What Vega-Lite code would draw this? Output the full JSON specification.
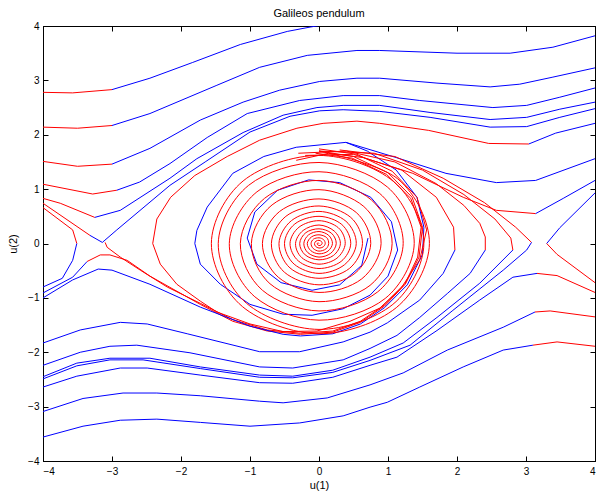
{
"$schema":"https://vega.github.io/schema/vega-lite/v6.json",
"autosize":{"type":"none"},
"width":552,"height":435,
"padding":{"left":43,"top":26,"right":1,"bottom":33},
"background":"white",
"title":{"text":"Galileos pendulum","fontSize":11,"font":"Liberation Sans","fontWeight":"normal","color":"#000","offset":2},
"config":{"view":{"stroke":"#000","strokeWidth":1},
"axis":{"grid":false,"domainColor":"#000","tickColor":"#000","labelColor":"#000","titleColor":"#000","tickSize":-5,"labelFont":"Liberation Sans","labelFontSize":10,"titleFont":"Liberation Sans","titleFontSize":11,"titleFontWeight":"normal"}},
"datasets":{
"ln":[
{"c":"L1r","k":"r","x":-4,"y":2.78},{"c":"L1r","k":"r","x":-3.57,"y":2.77},{"c":"L1r","k":"r","x":-3.0,"y":2.83},
{"c":"L1b","k":"b","x":-3.0,"y":2.83},{"c":"L1b","k":"b","x":-2.45,"y":3.04},{"c":"L1b","k":"b","x":-1.83,"y":3.33},{"c":"L1b","k":"b","x":-1.14,"y":3.66},{"c":"L1b","k":"b","x":-0.46,"y":3.9},{"c":"L1b","k":"b","x":-0.13,"y":3.98},{"c":"L1b","k":"b","x":0.1,"y":4.03},
{"c":"L2r","k":"r","x":-4,"y":2.14},{"c":"L2r","k":"r","x":-3.5,"y":2.12},{"c":"L2r","k":"r","x":-3.0,"y":2.17},
{"c":"L2b","k":"b","x":-3.0,"y":2.17},{"c":"L2b","k":"b","x":-2.45,"y":2.39},{"c":"L2b","k":"b","x":-1.48,"y":2.91},{"c":"L2b","k":"b","x":-0.86,"y":3.24},{"c":"L2b","k":"b","x":-0.17,"y":3.46},{"c":"L2b","k":"b","x":0.55,"y":3.55},{"c":"L2b","k":"b","x":0.88,"y":3.55},{"c":"L2b","k":"b","x":2.0,"y":3.5},{"c":"L2b","k":"b","x":2.77,"y":3.5},{"c":"L2b","k":"b","x":3.39,"y":3.61},{"c":"L2b","k":"b","x":4.0,"y":3.82},
{"c":"L3r","k":"r","x":-4,"y":1.51},{"c":"L3r","k":"r","x":-3.5,"y":1.42},{"c":"L3r","k":"r","x":-3.0,"y":1.46},
{"c":"L3b","k":"b","x":-3.0,"y":1.46},{"c":"L3b","k":"b","x":-2.45,"y":1.75},{"c":"L3b","k":"b","x":-1.72,"y":2.27},{"c":"L3b","k":"b","x":-1.1,"y":2.6},{"c":"L3b","k":"b","x":-0.57,"y":2.82},{"c":"L3b","k":"b","x":0.01,"y":2.98},{"c":"L3b","k":"b","x":0.55,"y":3.04},{"c":"L3b","k":"b","x":0.88,"y":3.04},{"c":"L3b","k":"b","x":1.71,"y":2.95},{"c":"L3b","k":"b","x":2.48,"y":2.88},{"c":"L3b","k":"b","x":2.91,"y":2.93},{"c":"L3b","k":"b","x":3.39,"y":3.06},{"c":"L3b","k":"b","x":4.0,"y":3.23},
{"c":"L4r","k":"r","x":-4,"y":1.09},{"c":"L4r","k":"r","x":-3.28,"y":0.91},{"c":"L4r","k":"r","x":-2.93,"y":0.98},
{"c":"L4b","k":"b","x":-2.93,"y":0.98},{"c":"L4b","k":"b","x":-2.6,"y":1.13},{"c":"L4b","k":"b","x":-2.16,"y":1.47},{"c":"L4b","k":"b","x":-1.62,"y":1.95},{"c":"L4b","k":"b","x":-1.04,"y":2.39},{"c":"L4b","k":"b","x":-0.28,"y":2.63},{"c":"L4b","k":"b","x":0.35,"y":2.72},{"c":"L4b","k":"b","x":0.88,"y":2.72},{"c":"L4b","k":"b","x":1.46,"y":2.63},{"c":"L4b","k":"b","x":2.52,"y":2.5},{"c":"L4b","k":"b","x":3.01,"y":2.54},{"c":"L4b","k":"b","x":3.49,"y":2.69},{"c":"L4b","k":"b","x":4.0,"y":2.86},
{"c":"L5r","k":"r","x":-4,"y":0.83},{"c":"L5r","k":"r","x":-3.75,"y":0.74},{"c":"L5r","k":"r","x":-3.25,"y":0.48},
{"c":"L5b","k":"b","x":-3.25,"y":0.48},{"c":"L5b","k":"b","x":-2.88,"y":0.61},{"c":"L5b","k":"b","x":-2.16,"y":1.2},{"c":"L5b","k":"b","x":-1.77,"y":1.56},{"c":"L5b","k":"b","x":-1.1,"y":2.04},{"c":"L5b","k":"b","x":-0.52,"y":2.36},{"c":"L5b","k":"b","x":-0.03,"y":2.5},{"c":"L5b","k":"b","x":0.35,"y":2.54},{"c":"L5b","k":"b","x":0.88,"y":2.54},{"c":"L5b","k":"b","x":1.61,"y":2.41},{"c":"L5b","k":"b","x":2.48,"y":2.28},{"c":"L5b","k":"b","x":3.01,"y":2.32},{"c":"L5b","k":"b","x":3.49,"y":2.47},{"c":"L5b","k":"b","x":4.0,"y":2.6},
{"c":"L6r","k":"r","x":-4,"y":0.74},{"c":"L6r","k":"r","x":-3.32,"y":0.15},
{"c":"L6b","k":"b","x":-3.32,"y":0.15},{"c":"L6b","k":"b","x":-3.14,"y":0.02},{"c":"L6b","k":"b","x":-2.93,"y":0.25},{"c":"L6b","k":"b","x":-2.16,"y":1.07},{"c":"L6b","k":"b","x":-1.65,"y":1.5},{"c":"L6b","k":"b","x":-1.0,"y":2.05},{"c":"L6b","k":"b","x":-0.42,"y":2.34},{"c":"L6b","k":"b","x":0.01,"y":2.44},{"c":"L6b","k":"b","x":0.35,"y":2.46},{"c":"L6b","k":"b","x":0.88,"y":2.43},{"c":"L6b","k":"b","x":1.61,"y":2.32},{"c":"L6b","k":"b","x":2.48,"y":2.14},{"c":"L6b","k":"b","x":3.01,"y":2.15},{"c":"L6b","k":"b","x":3.49,"y":2.32},{"c":"L6b","k":"b","x":4.0,"y":2.48},
{"c":"SLr","k":"r","x":-4,"y":0.66},{"c":"SLr","k":"r","x":-3.57,"y":0.25},{"c":"SLr","k":"r","x":-3.51,"y":0.0},
{"c":"SLb","k":"b","x":-3.51,"y":0.0},{"c":"SLb","k":"b","x":-3.57,"y":-0.31},{"c":"SLb","k":"b","x":-3.72,"y":-0.64},{"c":"SLb","k":"b","x":-4,"y":-0.8},
{"c":"Hb","k":"b","x":-4,"y":-0.91},{"c":"Hb","k":"b","x":-3.57,"y":-0.62},{"c":"Hb","k":"b","x":-3.36,"y":-0.33},
{"c":"Hr","k":"r","x":-3.36,"y":-0.33},{"c":"Hr","k":"r","x":-3.17,"y":-0.21},{"c":"Hr","k":"r","x":-3.03,"y":-0.21},{"c":"Hr","k":"r","x":-2.78,"y":-0.31},{"c":"Hr","k":"r","x":-2.45,"y":-0.6},{"c":"Hr","k":"r","x":-1.72,"y":-1.12},{"c":"Hr","k":"r","x":-1.25,"y":-1.43},{"c":"Hr","k":"r","x":-0.75,"y":-1.61},{"c":"Hr","k":"r","x":-0.27,"y":-1.67},{"c":"Hr","k":"r","x":0.2,"y":-1.63},{"c":"Hr","k":"r","x":0.6,"y":-1.45},{"c":"Hr","k":"r","x":0.95,"y":-1.15},{"c":"Hr","k":"r","x":1.25,"y":-0.75},{"c":"Hr","k":"r","x":1.45,"y":-0.25},{"c":"Hr","k":"r","x":1.5,"y":0.3},{"c":"Hr","k":"r","x":1.35,"y":0.85},{"c":"Hr","k":"r","x":1.0,"y":1.3},{"c":"Hr","k":"r","x":0.5,"y":1.6},{"c":"Hr","k":"r","x":0,"y":1.7},
{"c":"B1r","k":"r","x":-3.1,"y":0.02},{"c":"B1r","k":"r","x":-3.07,"y":-0.07},{"c":"B1r","k":"r","x":-2.88,"y":-0.25},{"c":"B1r","k":"r","x":-2.59,"y":-0.49},{"c":"B1r","k":"r","x":-2.2,"y":-0.8},{"c":"B1r","k":"r","x":-1.72,"y":-1.1},{"c":"B1r","k":"r","x":-1.25,"y":-1.4},{"c":"B1r","k":"r","x":-0.75,"y":-1.59},{"c":"B1r","k":"r","x":-0.27,"y":-1.65},{"c":"B1r","k":"r","x":0.2,"y":-1.61},{"c":"B1r","k":"r","x":0.6,"y":-1.43},{"c":"B1r","k":"r","x":0.95,"y":-1.13},{"c":"B1r","k":"r","x":1.25,"y":-0.73},{"c":"B1r","k":"r","x":1.43,"y":-0.25},{"c":"B1r","k":"r","x":1.48,"y":0.3},{"c":"B1r","k":"r","x":1.33,"y":0.83},{"c":"B1r","k":"r","x":0.98,"y":1.27},{"c":"B1r","k":"r","x":0.48,"y":1.57},{"c":"B1r","k":"r","x":-0.05,"y":1.66},
{"c":"B3b","k":"b","x":-4,"y":-1.0},{"c":"B3b","k":"b","x":-3.57,"y":-0.67},{"c":"B3b","k":"b","x":-3.2,"y":-0.47},{"c":"B3b","k":"b","x":-3.0,"y":-0.49},{"c":"B3b","k":"b","x":-2.45,"y":-0.75},{"c":"B3b","k":"b","x":-1.72,"y":-1.17},{"c":"B3b","k":"b","x":-1.0,"y":-1.52},{"c":"B3b","k":"b","x":-0.52,"y":-1.67},{"c":"B3b","k":"b","x":-0.27,"y":-1.7},{"c":"B3b","k":"b","x":0.2,"y":-1.66},{"c":"B3b","k":"b","x":0.6,"y":-1.48},{"c":"B3b","k":"b","x":0.95,"y":-1.18},{"c":"B3b","k":"b","x":1.28,"y":-0.76},{"c":"B3b","k":"b","x":1.5,"y":-0.2},{"c":"B3b","k":"b","x":1.52,"y":0.3},{"c":"B3b","k":"b","x":1.42,"y":0.85},{"c":"B3b","k":"b","x":1.12,"y":1.35},{"c":"B3b","k":"b","x":0.7,"y":1.7},{"c":"B3b","k":"b","x":0.39,"y":1.86},
{"c":"Gb","k":"b","x":4.0,"y":2.21},{"c":"Gb","k":"b","x":3.43,"y":2.03},{"c":"Gb","k":"b","x":3.04,"y":1.83},
{"c":"Gr","k":"r","x":3.04,"y":1.83},{"c":"Gr","k":"r","x":2.46,"y":1.84},{"c":"Gr","k":"r","x":1.59,"y":2.08},{"c":"Gr","k":"r","x":0.88,"y":2.21},{"c":"Gr","k":"r","x":0.55,"y":2.25},{"c":"Gr","k":"r","x":0.06,"y":2.21},{"c":"Gr","k":"r","x":-0.32,"y":2.12},{"c":"Gr","k":"r","x":-0.86,"y":1.9},{"c":"Gr","k":"r","x":-1.33,"y":1.6},{"c":"Gr","k":"r","x":-1.8,"y":1.25},{"c":"Gr","k":"r","x":-2.15,"y":0.85},{"c":"Gr","k":"r","x":-2.35,"y":0.45},{"c":"Gr","k":"r","x":-2.41,"y":0},{"c":"Gr","k":"r","x":-2.3,"y":-0.38},{"c":"Gr","k":"r","x":-2.06,"y":-0.75},{"c":"Gr","k":"r","x":-1.72,"y":-1.06},{"c":"Gr","k":"r","x":-1.48,"y":-1.26},{"c":"Gr","k":"r","x":-1.0,"y":-1.48},{"c":"Gr","k":"r","x":-0.52,"y":-1.62},{"c":"Gr","k":"r","x":-0.03,"y":-1.61},{"c":"Gr","k":"r","x":0.45,"y":-1.43},{"c":"Gr","k":"r","x":0.88,"y":-1.19},{"c":"Gr","k":"r","x":1.2,"y":-0.8},{"c":"Gr","k":"r","x":1.46,"y":-0.3},{"c":"Gr","k":"r","x":1.56,"y":0.25},{"c":"Gr","k":"r","x":1.42,"y":0.85},{"c":"Gr","k":"r","x":1.06,"y":1.33},{"c":"Gr","k":"r","x":0.55,"y":1.64},{"c":"Gr","k":"r","x":0,"y":1.74},
{"c":"BS","k":"b","x":0.71,"y":0.1},{"c":"BS","k":"b","x":0.62,"y":-0.4},{"c":"BS","k":"b","x":0.3,"y":-0.76},{"c":"BS","k":"b","x":-0.1,"y":-0.86},{"c":"BS","k":"b","x":-0.55,"y":-0.72},{"c":"BS","k":"b","x":-0.9,"y":-0.38},{"c":"BS","k":"b","x":-1.04,"y":0.1},{"c":"BS","k":"b","x":-0.93,"y":0.58},{"c":"BS","k":"b","x":-0.6,"y":0.98},{"c":"BS","k":"b","x":-0.15,"y":1.17},{"c":"BS","k":"b","x":0.3,"y":1.12},{"c":"BS","k":"b","x":0.75,"y":0.85},{"c":"BS","k":"b","x":1.05,"y":0.4},{"c":"BS","k":"b","x":1.14,"y":-0.12},{"c":"BS","k":"b","x":1.0,"y":-0.6},{"c":"BS","k":"b","x":0.74,"y":-0.95},{"c":"BS","k":"b","x":0.35,"y":-1.2},{"c":"BS","k":"b","x":-0.1,"y":-1.32},{"c":"BS","k":"b","x":-0.52,"y":-1.3},{"c":"BS","k":"b","x":-1.0,"y":-1.12},{"c":"BS","k":"b","x":-1.43,"y":-0.75},{"c":"BS","k":"b","x":-1.72,"y":-0.38},{"c":"BS","k":"b","x":-1.8,"y":0.0},{"c":"BS","k":"b","x":-1.77,"y":0.24},{"c":"BS","k":"b","x":-1.62,"y":0.67},{"c":"BS","k":"b","x":-1.25,"y":1.29},{"c":"BS","k":"b","x":-0.8,"y":1.6},{"c":"BS","k":"b","x":-0.33,"y":1.77},{"c":"BS","k":"b","x":0.39,"y":1.86},{"c":"BS","k":"b","x":1.12,"y":1.58},{"c":"BS","k":"b","x":1.84,"y":1.29},{"c":"BS","k":"b","x":2.57,"y":1.12},{"c":"BS","k":"b","x":3.14,"y":1.16},{"c":"BS","k":"b","x":4.0,"y":1.56},
{"c":"RA1r","k":"r","x":-0.2,"y":1.62},{"c":"RA1r","k":"r","x":0.5,"y":1.64},{"c":"RA1r","k":"r","x":1.2,"y":1.35},{"c":"RA1r","k":"r","x":1.7,"y":0.85},{"c":"RA1r","k":"r","x":1.95,"y":0.3},{"c":"RA1r","k":"r","x":1.97,"y":-0.12},
{"c":"RA1b","k":"b","x":1.97,"y":-0.12},{"c":"RA1b","k":"b","x":1.8,"y":-0.55},{"c":"RA1b","k":"b","x":1.46,"y":-1.04},{"c":"RA1b","k":"b","x":0.99,"y":-1.46},{"c":"RA1b","k":"b","x":0.74,"y":-1.63},{"c":"RA1b","k":"b","x":0.35,"y":-1.81},{"c":"RA1b","k":"b","x":-0.28,"y":-1.99},{"c":"RA1b","k":"b","x":-0.86,"y":-1.99},{"c":"RA1b","k":"b","x":-1.91,"y":-1.66},{"c":"RA1b","k":"b","x":-2.49,"y":-1.48},{"c":"RA1b","k":"b","x":-2.88,"y":-1.45},{"c":"RA1b","k":"b","x":-3.46,"y":-1.59},{"c":"RA1b","k":"b","x":-4,"y":-1.83},
{"c":"RA2r","k":"r","x":-0.3,"y":1.66},{"c":"RA2r","k":"r","x":0.4,"y":1.7},{"c":"RA2r","k":"r","x":1.1,"y":1.5},{"c":"RA2r","k":"r","x":1.7,"y":1.1},{"c":"RA2r","k":"r","x":2.1,"y":0.7},{"c":"RA2r","k":"r","x":2.33,"y":0.37},{"c":"RA2r","k":"r","x":2.41,"y":0.12},{"c":"RA2r","k":"r","x":2.41,"y":-0.12},
{"c":"RA2b","k":"b","x":2.41,"y":-0.12},{"c":"RA2b","k":"b","x":2.19,"y":-0.55},{"c":"RA2b","k":"b","x":1.86,"y":-0.92},{"c":"RA2b","k":"b","x":1.46,"y":-1.36},{"c":"RA2b","k":"b","x":1.13,"y":-1.69},{"c":"RA2b","k":"b","x":0.74,"y":-1.93},{"c":"RA2b","k":"b","x":0.35,"y":-2.14},{"c":"RA2b","k":"b","x":-0.38,"y":-2.29},{"c":"RA2b","k":"b","x":-0.86,"y":-2.27},{"c":"RA2b","k":"b","x":-1.87,"y":-2.01},{"c":"RA2b","k":"b","x":-2.64,"y":-1.87},{"c":"RA2b","k":"b","x":-3.03,"y":-1.89},{"c":"RA2b","k":"b","x":-3.46,"y":-2.0},{"c":"RA2b","k":"b","x":-4,"y":-2.24},
{"c":"RA3r","k":"r","x":0,"y":1.7},{"c":"RA3r","k":"r","x":0.8,"y":1.66},{"c":"RA3r","k":"r","x":1.5,"y":1.35},{"c":"RA3r","k":"r","x":2.1,"y":0.9},{"c":"RA3r","k":"r","x":2.55,"y":0.45},{"c":"RA3r","k":"r","x":2.78,"y":0.1},{"c":"RA3r","k":"r","x":2.81,"y":-0.12},
{"c":"RA3b","k":"b","x":2.81,"y":-0.12},{"c":"RA3b","k":"b","x":2.33,"y":-0.73},{"c":"RA3b","k":"b","x":1.71,"y":-1.36},{"c":"RA3b","k":"b","x":1.22,"y":-1.83},{"c":"RA3b","k":"b","x":0.74,"y":-2.09},{"c":"RA3b","k":"b","x":0.2,"y":-2.33},{"c":"RA3b","k":"b","x":-0.38,"y":-2.44},{"c":"RA3b","k":"b","x":-0.86,"y":-2.42},{"c":"RA3b","k":"b","x":-1.72,"y":-2.27},{"c":"RA3b","k":"b","x":-2.45,"y":-2.11},{"c":"RA3b","k":"b","x":-3.03,"y":-2.11},{"c":"RA3b","k":"b","x":-3.51,"y":-2.2},{"c":"RA3b","k":"b","x":-4,"y":-2.45},
{"c":"RA4r","k":"r","x":0.3,"y":1.72},{"c":"RA4r","k":"r","x":1.1,"y":1.6},{"c":"RA4r","k":"r","x":1.8,"y":1.2},{"c":"RA4r","k":"r","x":2.4,"y":0.75},{"c":"RA4r","k":"r","x":2.85,"y":0.3},{"c":"RA4r","k":"r","x":3.08,"y":0.02},
{"c":"RA4b","k":"b","x":3.08,"y":0.02},{"c":"RA4b","k":"b","x":3.01,"y":-0.12},{"c":"RA4b","k":"b","x":2.67,"y":-0.49},{"c":"RA4b","k":"b","x":1.94,"y":-1.23},{"c":"RA4b","k":"b","x":1.32,"y":-1.87},{"c":"RA4b","k":"b","x":0.74,"y":-2.15},{"c":"RA4b","k":"b","x":0.2,"y":-2.37},{"c":"RA4b","k":"b","x":-0.38,"y":-2.47},{"c":"RA4b","k":"b","x":-0.86,"y":-2.46},{"c":"RA4b","k":"b","x":-1.72,"y":-2.3},{"c":"RA4b","k":"b","x":-2.55,"y":-2.14},{"c":"RA4b","k":"b","x":-3.03,"y":-2.14},{"c":"RA4b","k":"b","x":-3.51,"y":-2.25},{"c":"RA4b","k":"b","x":-4,"y":-2.49},
{"c":"RA5r","k":"r","x":4.0,"y":-0.9},{"c":"RA5r","k":"r","x":3.45,"y":-0.59},{"c":"RA5r","k":"r","x":3.16,"y":-0.55},
{"c":"RA5b","k":"b","x":3.16,"y":-0.55},{"c":"RA5b","k":"b","x":2.81,"y":-0.62},{"c":"RA5b","k":"b","x":2.33,"y":-1.04},{"c":"RA5b","k":"b","x":1.71,"y":-1.6},{"c":"RA5b","k":"b","x":1.13,"y":-2.09},{"c":"RA5b","k":"b","x":0.74,"y":-2.24},{"c":"RA5b","k":"b","x":0.2,"y":-2.46},{"c":"RA5b","k":"b","x":-0.38,"y":-2.57},{"c":"RA5b","k":"b","x":-0.86,"y":-2.56},{"c":"RA5b","k":"b","x":-1.72,"y":-2.42},{"c":"RA5b","k":"b","x":-2.49,"y":-2.29},{"c":"RA5b","k":"b","x":-2.88,"y":-2.29},{"c":"RA5b","k":"b","x":-3.51,"y":-2.44},{"c":"RA5b","k":"b","x":-4,"y":-2.64},
{"c":"RA6r","k":"r","x":4.0,"y":-1.35},{"c":"RA6r","k":"r","x":3.35,"y":-1.24},{"c":"RA6r","k":"r","x":3.13,"y":-1.26},
{"c":"RA6b","k":"b","x":3.13,"y":-1.26},{"c":"RA6b","k":"b","x":2.67,"y":-1.54},{"c":"RA6b","k":"b","x":1.86,"y":-1.96},{"c":"RA6b","k":"b","x":1.22,"y":-2.38},{"c":"RA6b","k":"b","x":0.74,"y":-2.6},{"c":"RA6b","k":"b","x":0.12,"y":-2.84},{"c":"RA6b","k":"b","x":-0.52,"y":-2.93},{"c":"RA6b","k":"b","x":-0.86,"y":-2.9},{"c":"RA6b","k":"b","x":-1.72,"y":-2.8},{"c":"RA6b","k":"b","x":-2.35,"y":-2.75},{"c":"RA6b","k":"b","x":-2.84,"y":-2.75},{"c":"RA6b","k":"b","x":-3.42,"y":-2.85},{"c":"RA6b","k":"b","x":-4,"y":-3.09},
{"c":"RA7r","k":"r","x":4.0,"y":-1.89},{"c":"RA7r","k":"r","x":3.45,"y":-1.81},{"c":"RA7r","k":"r","x":3.1,"y":-1.87},
{"c":"RA7b","k":"b","x":3.1,"y":-1.87},{"c":"RA7b","k":"b","x":2.67,"y":-1.96},{"c":"RA7b","k":"b","x":2.09,"y":-2.27},{"c":"RA7b","k":"b","x":1.46,"y":-2.64},{"c":"RA7b","k":"b","x":0.99,"y":-2.92},{"c":"RA7b","k":"b","x":0.74,"y":-3.01},{"c":"RA7b","k":"b","x":0.35,"y":-3.17},{"c":"RA7b","k":"b","x":-0.28,"y":-3.3},{"c":"RA7b","k":"b","x":-1.0,"y":-3.36},{"c":"RA7b","k":"b","x":-1.72,"y":-3.29},{"c":"RA7b","k":"b","x":-2.35,"y":-3.23},{"c":"RA7b","k":"b","x":-2.88,"y":-3.25},{"c":"RA7b","k":"b","x":-3.42,"y":-3.36},{"c":"RA7b","k":"b","x":-4,"y":-3.56},
{"c":"RSb","k":"b","x":3.3,"y":0.0},{"c":"RSb","k":"b","x":3.49,"y":0.29},{"c":"RSb","k":"b","x":4.0,"y":0.93},
{"c":"RSr","k":"r","x":3.3,"y":0.0},{"c":"RSr","k":"r","x":3.45,"y":-0.2},{"c":"RSr","k":"r","x":4.0,"y":-0.72},
{"c":"RT1r","k":"r","x":-0.33,"y":1.53},{"c":"RT1r","k":"r","x":0.14,"y":1.66},{"c":"RT1r","k":"r","x":0.64,"y":1.58},{"c":"RT1r","k":"r","x":1.36,"y":1.29},{"c":"RT1r","k":"r","x":2.09,"y":0.85},{"c":"RT1r","k":"r","x":2.57,"y":0.61},{"c":"RT1r","k":"r","x":3.14,"y":0.55},
{"c":"RT1b","k":"b","x":3.14,"y":0.55},{"c":"RT1b","k":"b","x":3.54,"y":0.83},{"c":"RT1b","k":"b","x":4.0,"y":1.16}
],
"sp":[
{"x":0,"y":1.70},{"x":1.14,"y":1.19},{"x":1.60,"y":0},{"x":1.12,"y":-1.18},{"x":0,"y":-1.66},{"x":-1.11,"y":-1.16},{"x":-1.56,"y":0},{"x":-1.10,"y":1.15},
{"x":0,"y":1.62},{"x":1.08,"y":1.14},{"x":1.52,"y":0},{"x":1.07,"y":-1.12},{"x":0,"y":-1.58},{"x":-1.05,"y":-1.10},{"x":-1.46,"y":0},{"x":-1.02,"y":1.07},
{"x":0,"y":1.49},{"x":0.99,"y":1.04},{"x":1.38,"y":0},{"x":0.96,"y":-1.01},{"x":0,"y":-1.41},{"x":-0.93,"y":-0.98},{"x":-1.30,"y":0},{"x":-0.90,"y":0.95},
{"x":0,"y":1.32},{"x":0.88,"y":0.92},{"x":1.22,"y":0},{"x":0.85,"y":-0.89},{"x":0,"y":-1.24},{"x":-0.82,"y":-0.86},{"x":-1.14,"y":0},{"x":-0.79,"y":0.83},
{"x":0,"y":1.16},{"x":0.76,"y":0.80},{"x":1.06,"y":0},{"x":0.74,"y":-0.77},{"x":0,"y":-1.07},{"x":-0.71,"y":-0.74},{"x":-0.98,"y":0},{"x":-0.68,"y":0.71},
{"x":0,"y":0.99},{"x":0.65,"y":0.68},{"x":0.90,"y":0},{"x":0.62,"y":-0.65},{"x":0,"y":-0.90},{"x":-0.59,"y":-0.62},{"x":-0.82,"y":0},{"x":-0.57,"y":0.59},
{"x":0,"y":0.82},{"x":0.54,"y":0.57},{"x":0.75,"y":0},{"x":0.52,"y":-0.55},{"x":0,"y":-0.76},{"x":-0.50,"y":-0.53},{"x":-0.69,"y":0},{"x":-0.48,"y":0.50},
{"x":0,"y":0.69},{"x":0.46,"y":0.48},{"x":0.63,"y":0},{"x":0.44,"y":-0.46},{"x":0,"y":-0.64},{"x":-0.42,"y":-0.45},{"x":-0.58,"y":0},{"x":-0.40,"y":0.42},
{"x":0,"y":0.59},{"x":0.39,"y":0.41},{"x":0.54,"y":0},{"x":0.37,"y":-0.39},{"x":0,"y":-0.55},{"x":-0.36,"y":-0.38},{"x":-0.50,"y":0},{"x":-0.35,"y":0.36},
{"x":0,"y":0.50},{"x":0.33,"y":0.35},{"x":0.46,"y":0},{"x":0.32,"y":-0.33},{"x":0,"y":-0.46},{"x":-0.30,"y":-0.32},{"x":-0.42,"y":0},{"x":-0.29,"y":0.30},
{"x":0,"y":0.42},{"x":0.28,"y":0.29},{"x":0.38,"y":0},{"x":0.26,"y":-0.27},{"x":0,"y":-0.38},{"x":-0.25,"y":-0.26},{"x":-0.34,"y":0},{"x":-0.23,"y":0.24},
{"x":0,"y":0.34},{"x":0.22,"y":0.23},{"x":0.31,"y":0},{"x":0.21,"y":-0.22},{"x":0,"y":-0.30},{"x":-0.20,"y":-0.21},{"x":-0.28,"y":0},{"x":-0.19,"y":0.20},
{"x":0,"y":0.27},{"x":0.18,"y":0.19},{"x":0.25,"y":0},{"x":0.17,"y":-0.18},{"x":0,"y":-0.25},{"x":-0.16,"y":-0.17},{"x":-0.22,"y":0},{"x":-0.15,"y":0.16},
{"x":0,"y":0.22},{"x":0.14,"y":0.15},{"x":0.195,"y":0},{"x":0.13,"y":-0.14},{"x":0,"y":-0.19},{"x":-0.12,"y":-0.13},{"x":-0.17,"y":0},{"x":-0.11,"y":0.12},
{"x":0,"y":0.16},{"x":0.11,"y":0.11},{"x":0.14,"y":0},{"x":0.10,"y":-0.10},{"x":0,"y":-0.14},{"x":-0.085,"y":-0.09},{"x":-0.115,"y":0},{"x":-0.08,"y":0.08},
{"x":0,"y":0.105},{"x":0.067,"y":0.07},{"x":0.09,"y":0},{"x":0.06,"y":-0.063},{"x":0,"y":-0.084},{"x":-0.05,"y":-0.052},{"x":-0.065,"y":0},{"x":-0.042,"y":0.045},
{"x":0,"y":0.058},{"x":0.035,"y":0.037},{"x":0.045,"y":0},{"x":0.028,"y":-0.03},{"x":0,"y":-0.037},{"x":-0.021,"y":-0.022},{"x":-0.025,"y":0},{"x":-0.014,"y":0.015},
{"x":0,"y":0}
]},
"layer":[
{"data":{"name":"ln"},
"mark":{"type":"line","strokeWidth":1,"clip":true},
"encoding":{
"x":{"field":"x","type":"quantitative","scale":{"domain":[-4,4],"nice":false,"zero":false},"axis":{"values":[-4,-3,-2,-1,0,1,2,3,4],"title":"u(1)","labelPadding":10,"titlePadding":3}},
"y":{"field":"y","type":"quantitative","scale":{"domain":[-4,4],"nice":false,"zero":false},"axis":{"values":[-4,-3,-2,-1,0,1,2,3,4],"title":"u(2)","labelPadding":9,"titlePadding":9}},
"color":{"field":"k","type":"nominal","scale":{"domain":["r","b"],"range":["#ff0000","#0000ff"]},"legend":null},
"detail":{"field":"c"},
"order":{"value":null}}},
{"data":{"name":"sp"},
"mark":{"type":"line","strokeWidth":1,"clip":true,"color":"#ff0000","interpolate":"cardinal"},
"encoding":{
"x":{"field":"x","type":"quantitative","axis":{"orient":"top","labels":false,"title":null,"values":[-4,-3,-2,-1,0,1,2,3,4]}},
"y":{"field":"y","type":"quantitative","axis":{"orient":"right","labels":false,"title":null,"values":[-4,-3,-2,-1,0,1,2,3,4]}},
"order":{"value":null}}}
],
"resolve":{"axis":{"x":"independent","y":"independent"}}
}
